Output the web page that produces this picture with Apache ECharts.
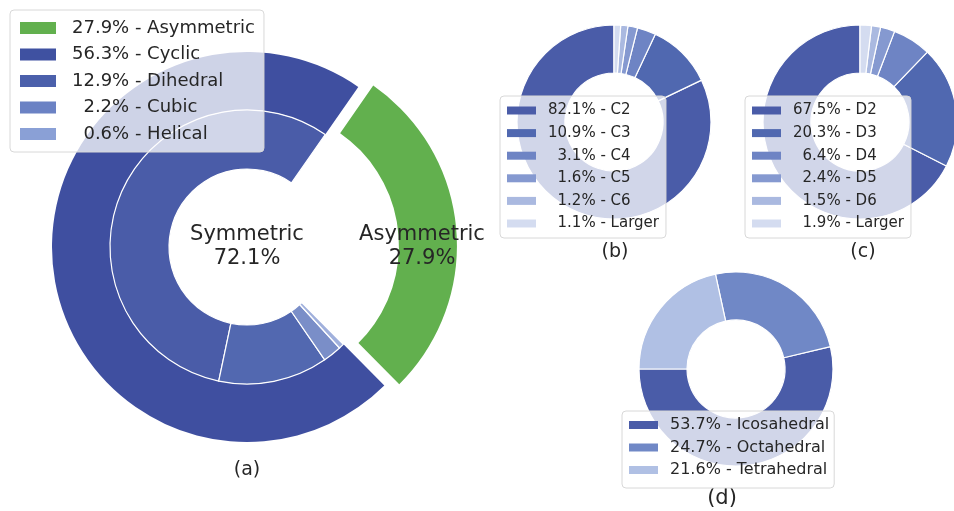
<!DOCTYPE html>
<html>
<head>
<meta charset="utf-8">
<script src="https://cdn.jsdelivr.net/npm/echarts@6/dist/echarts.min.js"></script>
<style>
  html, body { margin: 0; padding: 0; background: #fff; }
  #chart { width: 954px; height: 511px; }
</style>
</head>
<body>
<div id="chart"></div>
<script>
// (a) symmetric vs asymmetric, and the symmetric classes
const outerLabels = ['Symmetric', 'Asymmetric']
const outerValues = [72.1, 27.9]
const classLabels = ['Cyclic', 'Dihedral', 'Cubic', 'Helical']
const classValues = [56.3, 12.9, 2.2, 0.6]
// (b) cyclic
const cyclicLabels = ['C2', 'C3', 'C4', 'C5', 'C6', 'Larger']
const cyclicValues = [82.1, 10.9, 3.1, 1.6, 1.2, 1.1]
// (c) dihedral
const dihedralLabels = ['D2', 'D3', 'D4', 'D5', 'D6', 'Larger']
const dihedralValues = [67.5, 20.3, 6.4, 2.4, 1.5, 1.9]
// (d) cubic
const cubicLabels = ['Icosahedral', 'Octahedral', 'Tetrahedral']
const cubicValues = [53.7, 24.7, 21.6]
const panelLabels = ['(a)', '(b)', '(c)', '(d)']

const FONT = 'DejaVu Sans'
const outerColors = ['#3f4fa0', '#62b04e']
const classColors = ['#4a5ca8', '#5268b0', '#7a8ec8', '#a0b0dc']
const classLegendColors = ['#3f51a1', '#4b60ab', '#6b82c4', '#8aa0d6']
const subColors = ['#4a5ca8', '#5068b0', '#6e84c4', '#8599d0', '#aab9e0', '#d4dcf0']
const cubicColors = ['#4a5ca8', '#7088c6', '#b0c0e4']

const toItems = (labels, values, colors) =>
  labels.map((name, i) => ({name, value: values[i], itemStyle: {color: colors[i]}}))

const pieBase = {
  type: 'pie',
  clockwise: false,
  silent: true,
  label: {show: false},
  labelLine: {show: false},
  emphasis: {disabled: true},
  itemStyle: {borderColor: '#fff', borderWidth: 1.2}
}

// legend text: percentage padded to 4 digits (2 spaces = 1 digit in DejaVu), then name
const makeFormatter = (labels, values) => {
  const map = {}
  labels.forEach((l, i) => {
    const s = values[i].toFixed(1)
    map[l] = '  '.repeat(4 - s.length) + s + '%'
  })
  return name => `{p|${map[name]} - ${name}}`
}

const legendBase = {
  orient: 'vertical',
  icon: 'rect',
  backgroundColor: 'rgba(255,255,255,0.75)',
  borderColor: '#d8d8d8',
  borderWidth: 1,
  borderRadius: 4,
  itemStyle: {borderWidth: 0},
  selectedMode: false
}

const legendText = (size, lead, lh) => ({
  fontFamily: FONT, fontSize: size, color: '#262626', lineHeight: lh,
  rich: {
    p: {fontFamily: FONT, fontSize: size, color: '#262626', lineHeight: lh, padding: [0, 0, 0, lead]}
  }
})

const asymItems = toItems(outerLabels, outerValues, outerColors)
asymItems[0].itemStyle.borderWidth = 0
asymItems[1].selected = true
asymItems[1].itemStyle.borderWidth = 0

const classItems = toItems(classLabels, classValues, classColors)
classItems.push({name: 'rest', value: outerValues[1], itemStyle: {color: 'rgba(0,0,0,0)', borderWidth: 0}})

const aLegendNames = [outerLabels[1]].concat(classLabels)
const aLegendValues = [outerValues[1]].concat(classValues)
const aLegendColors = [outerColors[1]].concat(classLegendColors)

const chart = echarts.init(document.getElementById('chart'))
chart.setOption({
  animation: false,
  legend: [
    Object.assign({}, legendBase, {
      left: 10, top: 10,
      padding: [8, 9, 8, 10],
      itemWidth: 36, itemHeight: 12, itemGap: 6.5,
      data: aLegendNames.map((n, i) => ({name: n, itemStyle: {color: aLegendColors[i]}})),
      formatter: makeFormatter(aLegendNames, aLegendValues),
      textStyle: legendText(18, 11, 20)
    }),
    Object.assign({}, legendBase, {
      left: 500, top: 96,
      padding: [6.5, 7, 6.5, 7],
      itemWidth: 29, itemHeight: 8, itemGap: 6.6,
      data: cyclicLabels,
      formatter: makeFormatter(cyclicLabels, cyclicValues),
      textStyle: legendText(15, 7, 16)
    }),
    Object.assign({}, legendBase, {
      left: 745, top: 96,
      padding: [6.5, 7, 6.5, 7],
      itemWidth: 29, itemHeight: 8, itemGap: 6.6,
      data: dihedralLabels,
      formatter: makeFormatter(dihedralLabels, dihedralValues),
      textStyle: legendText(15, 7, 16)
    }),
    Object.assign({}, legendBase, {
      left: 622, top: 411,
      padding: [5, 5, 9, 7],
      itemWidth: 29, itemHeight: 8, itemGap: 4.5,
      data: cubicLabels,
      formatter: makeFormatter(cubicLabels, cubicValues),
      textStyle: legendText(16, 7, 18)
    })
  ],
  series: [
    Object.assign({}, pieBase, {
      name: 'outer', center: [247, 247], radius: [137, 195], startAngle: 55.2,
      selectedMode: 'single', selectedOffset: 15,
      data: asymItems
    }),
    Object.assign({}, pieBase, {
      name: 'classes', center: [247, 247], radius: [78, 137], startAngle: 55.2,
      data: classItems
    }),
    Object.assign({}, pieBase, {
      name: 'cyclic', center: [614, 122], radius: [49, 97], startAngle: 90,
      data: toItems(cyclicLabels, cyclicValues, subColors)
    }),
    Object.assign({}, pieBase, {
      name: 'dihedral', center: [860, 122], radius: [49, 97], startAngle: 90,
      data: toItems(dihedralLabels, dihedralValues, subColors)
    }),
    Object.assign({}, pieBase, {
      name: 'cubic', center: [736, 369], radius: [49, 97], startAngle: 180,
      data: toItems(cubicLabels, cubicValues, cubicColors)
    })
  ],
  graphic: [
    {type: 'text', x: 247, y: 247, z: 10, style: {
      text: outerLabels[0] + '\n' + outerValues[0].toFixed(1) + '%',
      font: '21px "DejaVu Sans"', fill: '#262626', align: 'center', verticalAlign: 'middle', lineHeight: 24}},
    {type: 'text', x: 422, y: 247, z: 10, style: {
      text: outerLabels[1] + '\n' + outerValues[1].toFixed(1) + '%',
      font: '21px "DejaVu Sans"', fill: '#262626', align: 'center', verticalAlign: 'middle', lineHeight: 24}},
    {type: 'text', x: 247, y: 470, style: {text: panelLabels[0], font: '19px "DejaVu Sans"', fill: '#262626', align: 'center', verticalAlign: 'middle'}},
    {type: 'text', x: 615, y: 252, style: {text: panelLabels[1], font: '19px "DejaVu Sans"', fill: '#262626', align: 'center', verticalAlign: 'middle'}},
    {type: 'text', x: 863, y: 252, style: {text: panelLabels[2], font: '19px "DejaVu Sans"', fill: '#262626', align: 'center', verticalAlign: 'middle'}},
    {type: 'text', x: 722, y: 499, style: {text: panelLabels[3], font: '21px "DejaVu Sans"', fill: '#262626', align: 'center', verticalAlign: 'middle'}}
  ]
})
</script>
</body>
</html>
